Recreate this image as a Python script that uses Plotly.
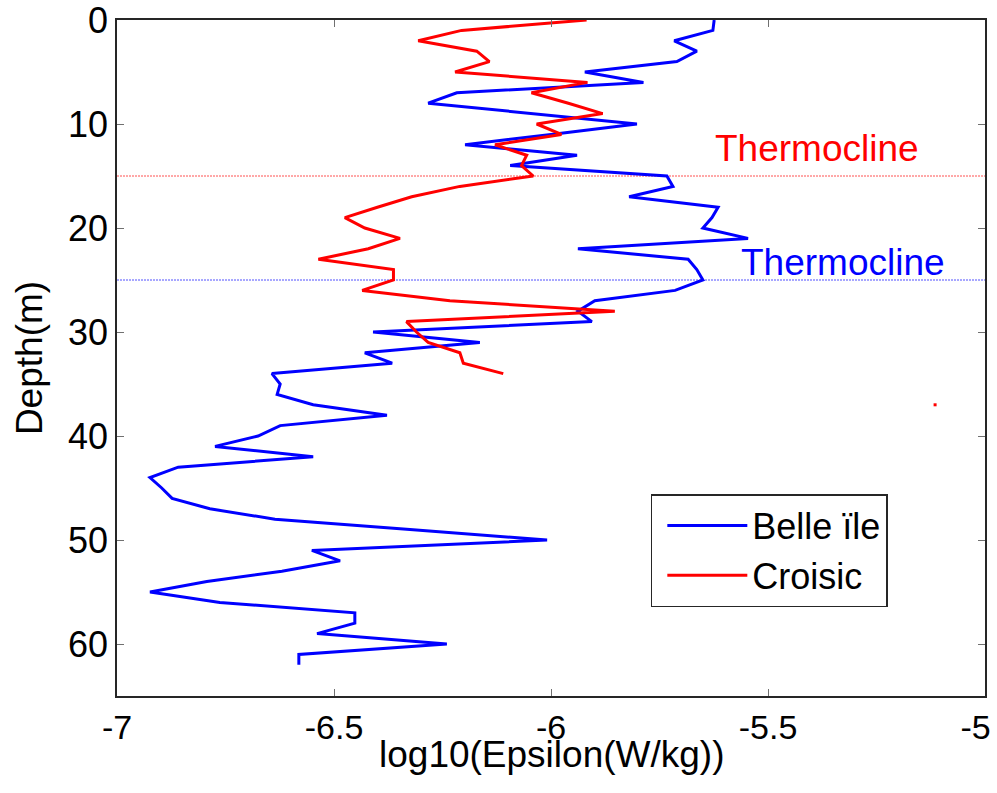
import plotly.graph_objects as go

# Dissipation profiles: log10(epsilon) versus depth (m)
belle_depth = list(range(0, 63))
belle_eps = [
    -5.624, -5.627, -5.716, -5.664, -5.710, -5.922, -5.787, -6.217, -6.283, -6.040,
    -5.802, -6.000, -6.198, -5.940, -6.094, -5.733, -5.719, -5.820, -5.615, -5.629,
    -5.650, -5.546, -5.938, -5.684, -5.664, -5.650, -5.714, -5.899, -5.938, -5.906,
    -6.410, -6.164, -6.429, -6.366, -6.643, -6.624, -6.631, -6.548, -6.378, -6.624,
    -6.675, -6.774, -6.548, -6.859, -6.924, -6.897, -6.873, -6.786, -6.636, -6.325,
    -6.009, -6.551, -6.486, -6.620, -6.793, -6.924, -6.763, -6.452, -6.452, -6.539,
    -6.240, -6.581, -6.581,
]

croisic_depth = list(range(0, 35))
croisic_eps = [
    -5.918, -6.206, -6.306, -6.171, -6.142, -6.221, -5.916, -6.045, -5.960, -5.881,
    -6.033, -5.976, -6.129, -6.056, -6.068, -6.041, -6.210, -6.321, -6.400, -6.475,
    -6.429, -6.348, -6.421, -6.536, -6.363, -6.363, -6.435, -6.233, -5.853, -6.333,
    -6.310, -6.283, -6.210, -6.202, -6.110,
]

# isolated sample
stray_eps = [-5.115]
stray_depth = [37]

# thermocline depths (m)
thermo_croisic = 15
thermo_belle = 25
x_span = [-7, -5]

x_ticks = [-7, -6.5, -6, -5.5, -5]
# last label padded so it stays inside the page
x_ticklabels = ["-7", "-6.5", "-6", "-5.5", "-5\u00a0\u00a0"]
y_ticks = [0, 10, 20, 30, 40, 50, 60]

FONT = "Liberation Sans, Arial, sans-serif"

fig = go.Figure()

# thin dotted thermocline markers
for d, col in [(thermo_croisic, "#FF5050"), (thermo_belle, "#5050FF")]:
    fig.add_trace(go.Scatter(x=x_span, y=[d, d], mode="lines", showlegend=False,
                             hoverinfo="skip",
                             line=dict(color=col, width=1, dash="2px,1px")))

fig.add_trace(go.Scatter(x=belle_eps, y=belle_depth, mode="lines", name="Belle ïle",
                         line=dict(color="#0000FF", width=3)))
fig.add_trace(go.Scatter(x=croisic_eps, y=croisic_depth, mode="lines", name="Croisic",
                         line=dict(color="#FF0000", width=3)))
fig.add_trace(go.Scatter(x=stray_eps, y=stray_depth, mode="markers", showlegend=False,
                         marker=dict(color="#FF0000", size=3, symbol="square",
                                     line=dict(width=0))))

fig.add_annotation(x=-5.627, y=12.4, xref="x", yref="y", text="Thermocline",
                   showarrow=False, xanchor="left", yanchor="middle",
                   font=dict(family=FONT, size=37, color="#FF0000"))
fig.add_annotation(x=-5.567, y=23.3, xref="x", yref="y", text="Thermocline",
                   showarrow=False, xanchor="left", yanchor="middle",
                   font=dict(family=FONT, size=37, color="#0000FF"))

# x-axis title placed just under the tick labels
fig.add_annotation(x=0.5, y=-0.087, xref="paper", yref="paper", text="log10(Epsilon(W/kg))",
                   showarrow=False, xanchor="center", yanchor="middle",
                   font=dict(family=FONT, size=37, color="#000000"))

axis_common = dict(showline=True, linecolor="#262626", linewidth=1.5, mirror="ticks",
                   ticks="inside", ticklen=7, tickcolor="#707070", tickwidth=1,
                   showgrid=False, zeroline=False, automargin=False,
                   ticklabeloverflow="allow")

fig.update_xaxes(range=x_span, tickvals=x_ticks, ticktext=x_ticklabels,
                 tickfont=dict(family=FONT, size=34, color="#000000"), **axis_common)
fig.update_yaxes(range=[65, 0], tickvals=y_ticks,
                 tickfont=dict(family=FONT, size=36, color="#000000"),
                 title=dict(text="Depth(m)", standoff=14,
                            font=dict(family=FONT, size=37, color="#000000")),
                 **axis_common)

fig.update_layout(
    width=997, height=793,
    margin=dict(l=117, r=12, t=20, b=97, autoexpand=False),
    paper_bgcolor="white", plot_bgcolor="white",
    legend=dict(x=0.615, y=0.2988, xanchor="left", yanchor="top",
                bgcolor="white", bordercolor="#262626", borderwidth=1.5,
                itemwidth=80, indentation=10,
                font=dict(family=FONT, size=36, color="#000000")),
)

fig.write_html("out.html")
